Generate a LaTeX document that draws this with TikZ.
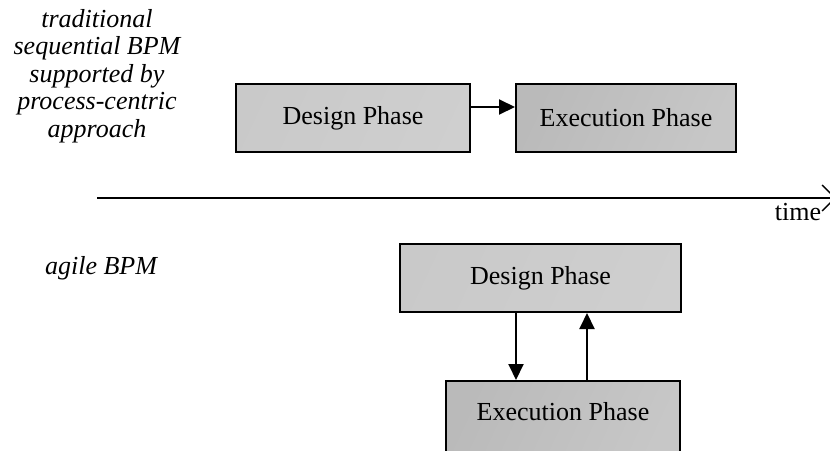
\documentclass[tikz,border=0pt]{standalone}
\usepackage{fontspec}
\setmainfont{Liberation Serif}
\usetikzlibrary{arrows.meta}
\begin{document}
\begin{tikzpicture}[x=1pt,y=-1pt,
  every node/.style={font=\fontsize{26}{27.4}\selectfont, inner sep=0pt},
  box/.style={draw=black, line width=2pt, minimum height=68pt, shading=axis},
  designbox/.style={box, left color=black!21, middle color=black!12, right color=black!19, shading angle=65},
  execbox/.style={box, left color=black!27, right color=black!22, shading angle=65},
  flow/.style={line width=2pt, -{Triangle[length=16pt,width=15pt]}},
  note/.style={align=center, font=\fontsize{26}{27.4}\selectfont\itshape}]
  \useasboundingbox (0,0) rectangle (830,450);

  % sequential process
  \node[designbox, minimum width=234pt] (d1) at (353,118) {Design Phase};
  \node[execbox, minimum width=220pt] (e1) at (626,118) {Execution Phase};
  \draw[flow] ([yshift=11pt]d1.east) -- ([yshift=11pt]e1.west);
  \node[note] (n1) at (97,76) {traditional\\sequential BPM\\supported by\\process-centric\\approach};

  % time axis
  \coordinate (t0) at (97,198);
  \coordinate (t1) at (836,198);
  \draw[line width=2pt, -{Straight Barb[length=13pt,width=26pt,line width=1.4pt]}] (t0) -- (t1);
  \node (time) at (798,212) {time};

  % agile process
  \node[designbox, minimum width=281pt] (d2) at (540.5,278) {Design Phase};
  \node[execbox, minimum width=234pt, minimum height=80pt, text height=17pt, text depth=18pt] (e2) at (563,421) {Execution Phase};
  \draw[flow] ([xshift=-24.5pt]d2.south) -- ([xshift=-24.5pt]d2.south |- e2.north);
  \draw[flow] ([xshift=24pt]e2.north) -- ([xshift=24pt]e2.north |- d2.south);
  \node[note] (n2) at (101,268) {agile BPM};
\end{tikzpicture}
\end{document}
